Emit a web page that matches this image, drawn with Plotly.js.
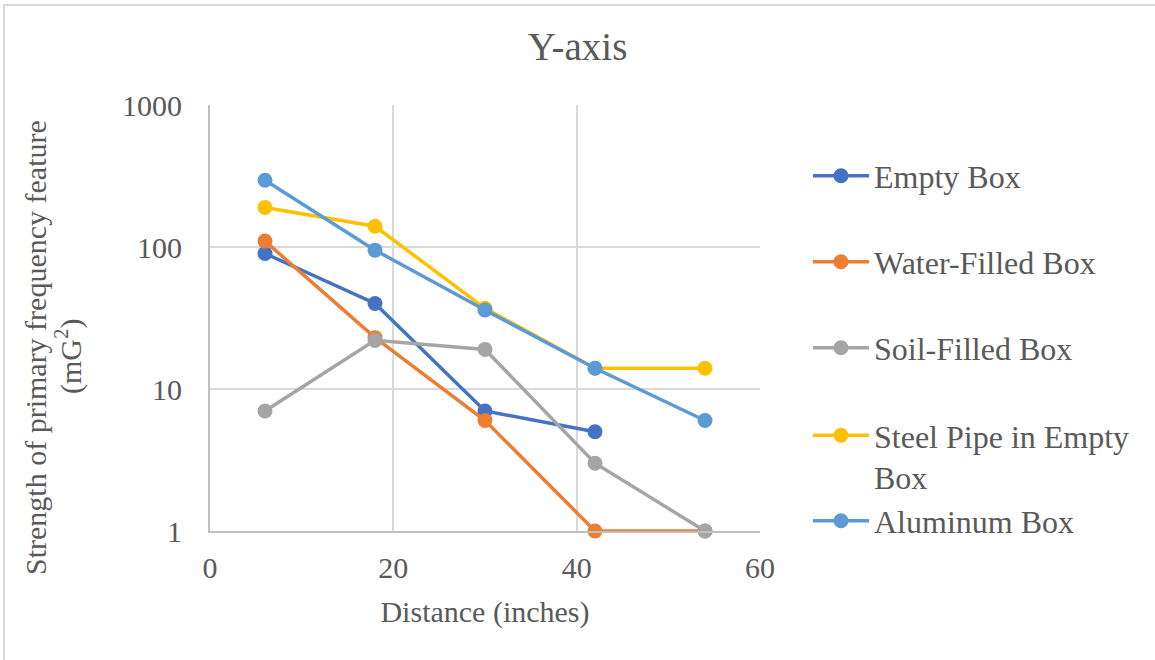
<!DOCTYPE html>
<html>
<head>
<meta charset="utf-8">
<script src="https://cdn.plot.ly/plotly-3.0.1.min.js"></script>
<style>
  html, body { margin: 0; padding: 0; background: #fff; overflow: hidden; }
  #wrap { position: relative; width: 1155px; height: 660px; }
  #chart { width: 1155px; height: 660px; }
  #frame {
    position: absolute; left: 3px; top: 4px; width: 2000px; height: 2000px;
    border-left: 2px solid #d9d9d9; border-top: 2px solid #d9d9d9;
    pointer-events: none;
  }
</style>
</head>
<body>
<div id="wrap">
  <div id="chart"></div>
  <div id="frame"></div>
</div>
<script>
// Distance from the sensor (inches)
const distance = [6, 18, 30, 42, 54];

// Strength of primary frequency feature (mG^2) per enclosure
const emptyBox    = [90, 40, 7, 5, null];
const waterFilled = [110, 23, 6, 1, 1];
const soilFilled  = [7, 22, 19, 3, 1];
const steelPipe   = [190, 140, 37, 14, 14];
const aluminumBox = [295, 95, 36, 14, 6];

const seriesNames = ['Empty Box', 'Water-Filled Box', 'Soil-Filled Box',
                     'Steel Pipe in Empty<br>Box', 'Aluminum Box'];
const seriesData = [emptyBox, waterFilled, soilFilled, steelPipe, aluminumBox];
const seriesColors = ['#4472C4', '#ED7D31', '#A5A5A5', '#FFC000', '#5B9BD5'];
const legendIds = ['legend', 'legend2', 'legend3', 'legend4', 'legend5'];

const xTicks = [0, 20, 40, 60];
const yTicks = [1, 10, 100, 1000];

const SERIF = 'Liberation Serif, Times New Roman, serif';
const GREY = '#595959';

const traces = seriesData.map((vals, i) => ({
  type: 'scatter',
  mode: 'lines+markers',
  name: seriesNames[i],
  x: distance,
  y: vals,
  connectgaps: false,
  legend: legendIds[i],
  line: { color: seriesColors[i], width: 3.5 },
  marker: { color: seriesColors[i], size: 15 },
  cliponaxis: false
}));

// Chart area occupies pixels 210..760 horizontally and 105..531 vertically
const L = 210, R = 760, T = 105, B = 531;
const px = v => (v - L) / (R - L);
const py = v => (B - v) / (B - T);

function legendAt(yPix, anchor, valign) {
  return {
    x: px(808), xanchor: 'left',
    y: py(yPix), yanchor: anchor,
    valign: valign || 'middle',
    bgcolor: 'rgba(0,0,0,0)',
    borderwidth: 0,
    itemwidth: 56,
    font: { family: SERIF, size: 32, color: GREY }
  };
}

const layout = {
  width: 1155,
  height: 660,
  margin: { l: L, r: 1155 - R, t: T, b: 660 - B, autoexpand: false },
  paper_bgcolor: '#ffffff',
  plot_bgcolor: '#ffffff',
  showlegend: true,
  title: {
    text: 'Y-axis',
    font: { family: SERIF, size: 39, color: GREY },
    x: 0.5, xanchor: 'center',
    y: 1 - 46 / 660, yanchor: 'middle', yref: 'container'
  },
  xaxis: {
    range: [0, 60],
    tickmode: 'array',
    tickvals: xTicks,
    ticktext: xTicks.map(String),
    showgrid: true,
    gridcolor: '#d9d9d9',
    gridwidth: 2,
    showline: true,
    linecolor: '#bfbfbf',
    linewidth: 2,
    zeroline: false,
    ticks: '',
    ticklabelstandoff: 9,
    tickfont: { family: SERIF, size: 30, color: GREY },
    title: {
      text: 'Distance (inches)',
      font: { family: SERIF, size: 30, color: GREY },
      standoff: 18
    }
  },
  yaxis: {
    type: 'log',
    range: [0, 3],
    tickmode: 'array',
    tickvals: yTicks,
    ticktext: yTicks.map(String),
    showgrid: true,
    gridcolor: '#d9d9d9',
    gridwidth: 2,
    showline: true,
    linecolor: '#bfbfbf',
    linewidth: 2,
    zeroline: false,
    ticks: '',
    ticklabelstandoff: 20,
    tickfont: { family: SERIF, size: 30, color: GREY }
  },
  legend:  legendAt(176, 'middle'),
  legend2: legendAt(262, 'middle'),
  legend3: legendAt(348, 'middle'),
  legend4: legendAt(408, 'top', 'top'),
  legend5: legendAt(521, 'middle'),
  annotations: [
    {
      text: 'Strength of primary frequency feature',
      textangle: -90,
      xref: 'paper', yref: 'paper',
      x: px(35), y: py(348),
      xanchor: 'center', yanchor: 'middle',
      showarrow: false,
      font: { family: SERIF, size: 30, color: GREY }
    },
    {
      text: '(mG<sup>2</sup>)',
      textangle: -90,
      xref: 'paper', yref: 'paper',
      x: px(68), y: py(356),
      xanchor: 'center', yanchor: 'middle',
      showarrow: false,
      font: { family: SERIF, size: 30, color: GREY }
    }
  ]
};

Plotly.newPlot('chart', traces, layout, { displayModeBar: false, staticPlot: true });
</script>
</body>
</html>
